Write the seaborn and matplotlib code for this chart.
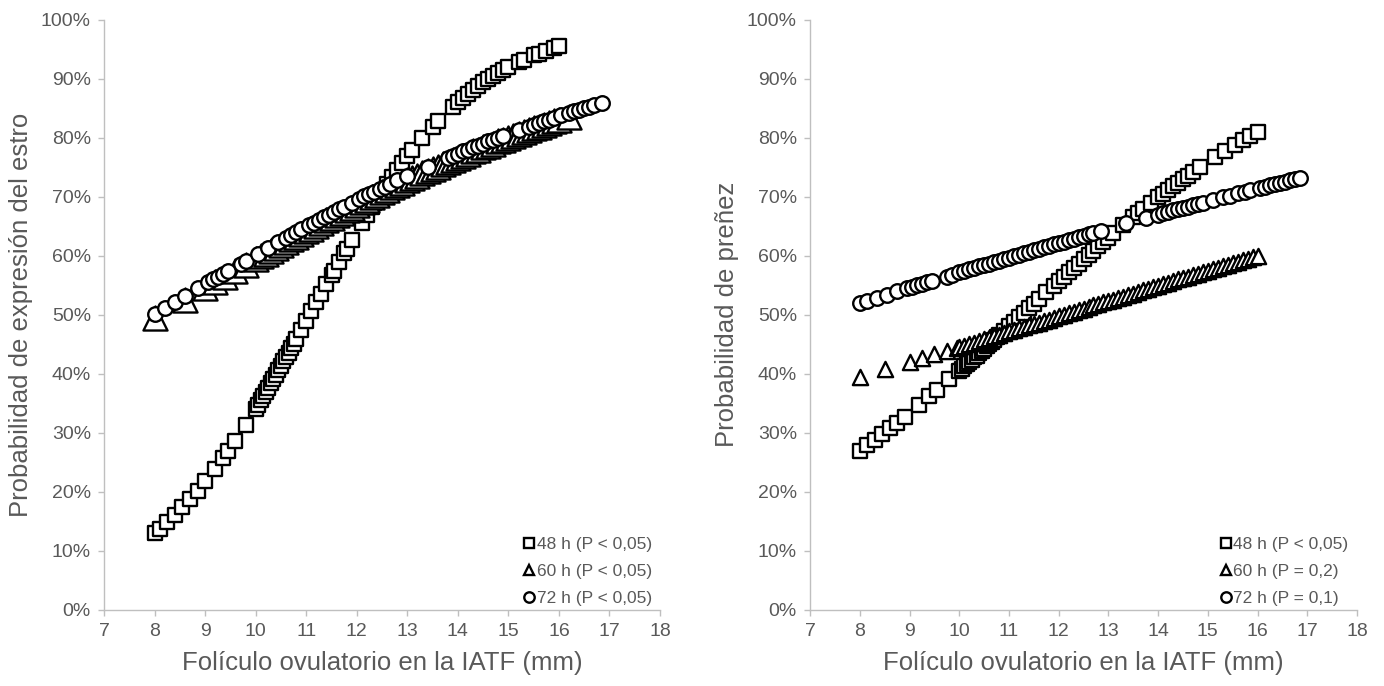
import matplotlib
matplotlib.use("Agg")
import matplotlib.pyplot as plt
from matplotlib.lines import Line2D
from matplotlib.ticker import FuncFormatter
import pandas as pd
import seaborn as sns

# ---- Panel A: probabilidad de expresión del estro ----
estro_48_x = [8.0, 8.1, 8.25, 8.4, 8.55, 8.7, 8.85, 9.0, 9.2, 9.35, 9.45, 9.6, 9.8,
              10.0, 10.05, 10.1, 10.15, 10.2, 10.25, 10.3, 10.35, 10.4, 10.45, 10.5,
              10.55, 10.6, 10.65, 10.7, 10.75, 10.8, 10.9, 11.0, 11.1, 11.2, 11.3,
              11.4, 11.5, 11.55, 11.65, 11.75, 11.8, 11.9, 12.1, 12.2, 12.3, 12.35,
              12.4, 12.5, 12.6, 12.7, 12.8, 12.9, 13.0, 13.1, 13.3, 13.5, 13.6, 13.9,
              14.0, 14.1, 14.2, 14.3, 14.4, 14.5, 14.6, 14.7, 14.8, 14.9, 15.0, 15.2,
              15.3, 15.5, 15.6, 15.75, 15.9, 16.0]
estro_48_y = [13.0, 13.7, 14.9, 16.1, 17.4, 18.8, 20.2, 21.8, 23.9, 25.7, 26.9, 28.7, 31.4,
              34.1, 34.8, 35.5, 36.2, 36.9, 37.6, 38.4, 39.1, 39.8, 40.6, 41.3,
              42.1, 42.9, 43.6, 44.4, 45.1, 45.9, 47.5, 49.0, 50.6, 52.1, 53.6,
              55.2, 56.7, 57.5, 59.0, 60.5, 61.2, 62.7, 65.5, 66.9, 68.3, 68.9,
              69.6, 70.9, 72.2, 73.4, 74.6, 75.7, 76.9, 77.9, 80.0, 81.9, 82.8, 85.3,
              86.1, 86.8, 87.5, 88.1, 88.8, 89.4, 90.0, 90.5, 91.0, 91.5, 92.0, 92.9,
              93.2, 94.0, 94.3, 94.8, 95.3, 95.5]

estro_60_x = [8.0, 8.6, 9.0, 9.2, 9.4, 9.6, 9.8, 10.0, 10.1, 10.2, 10.3, 10.4, 10.5,
              10.6, 10.7, 10.8, 10.9, 11.0, 11.1, 11.2, 11.3, 11.4, 11.5, 11.6, 11.7,
              11.8, 11.9, 12.0, 12.1, 12.2, 12.3, 12.4, 12.5, 12.6, 12.7, 12.8, 12.9,
              13.0, 13.1, 13.2, 13.3, 13.4, 13.5, 13.6, 13.7, 13.8, 13.9, 14.0, 14.1,
              14.2, 14.3, 14.4, 14.5, 14.6, 14.7, 14.8, 14.9, 15.0, 15.1, 15.2, 15.3,
              15.4, 15.5, 15.6, 15.7, 15.8, 15.9, 16.0, 16.2]
estro_60_y = [49.5, 52.5, 54.5, 55.5, 56.5, 57.5, 58.5, 59.4, 59.9, 60.4, 60.9, 61.4, 61.8,
              62.3, 62.8, 63.2, 63.7, 64.2, 64.6, 65.1, 65.5, 66.0, 66.5, 66.9, 67.3,
              67.8, 68.2, 68.7, 69.1, 69.5, 69.9, 70.4, 70.8, 71.2, 71.6, 72.0, 72.4,
              72.8, 73.2, 73.6, 74.0, 74.4, 74.8, 75.1, 75.5, 75.9, 76.2, 76.6, 77.0,
              77.3, 77.7, 78.0, 78.4, 78.7, 79.0, 79.4, 79.7, 80.0, 80.3, 80.6, 81.0,
              81.3, 81.6, 81.9, 82.2, 82.5, 82.8, 83.0, 83.6]

estro_72_x = [8.0, 8.2, 8.4, 8.6, 8.85, 9.05, 9.15, 9.25, 9.35, 9.45, 9.7, 9.8, 10.05,
              10.25, 10.45, 10.6, 10.7, 10.8, 10.9, 11.05, 11.15, 11.25, 11.35, 11.45,
              11.55, 11.65, 11.75, 11.9, 12.05, 12.15, 12.25, 12.35, 12.45, 12.55,
              12.65, 12.8, 13.0, 13.4, 13.8, 13.9, 14.0, 14.1, 14.2, 14.3, 14.4, 14.5,
              14.6, 14.7, 14.8, 14.9, 15.2, 15.4, 15.5, 15.6, 15.7, 15.8, 15.9, 16.05,
              16.2, 16.3, 16.4, 16.5, 16.6, 16.7, 16.85]
estro_72_y = [50.2, 51.2, 52.2, 53.2, 54.5, 55.5, 56.0, 56.5, 57.0, 57.5, 58.7, 59.2, 60.4,
              61.4, 62.4, 63.1, 63.6, 64.0, 64.5, 65.2, 65.6, 66.1, 66.6, 67.0,
              67.5, 67.9, 68.3, 69.0, 69.6, 70.1, 70.5, 70.9, 71.3, 71.7,
              72.1, 72.8, 73.6, 75.1, 76.6, 77.0, 77.3, 77.7, 78.0, 78.4, 78.7, 79.0,
              79.4, 79.7, 80.0, 80.4, 81.3, 81.9, 82.2, 82.5, 82.8, 83.1, 83.4, 83.8,
              84.2, 84.5, 84.7, 85.0, 85.2, 85.5, 85.9]

# ---- Panel B: probabilidad de preñez ----
prenez_48_x = [8.0, 8.15, 8.3, 8.45, 8.6, 8.75, 8.9, 9.2, 9.4, 9.55, 9.8, 10.0, 10.05,
               10.1, 10.15, 10.2, 10.25, 10.3, 10.35, 10.4, 10.45, 10.5, 10.55, 10.6,
               10.65, 10.7, 10.75, 10.8, 10.9, 11.0, 11.1, 11.2, 11.3, 11.4, 11.5, 11.6,
               11.75, 11.9, 12.0, 12.1, 12.2, 12.3, 12.4, 12.5, 12.6, 12.7, 12.8, 12.9,
               13.0, 13.1, 13.3, 13.5, 13.6, 13.7, 13.85, 14.0, 14.1, 14.2, 14.3, 14.4,
               14.5, 14.6, 14.7, 14.85, 15.15, 15.35, 15.55, 15.7, 15.85, 16.0]
prenez_48_y = [27.0, 27.9, 28.8, 29.8, 30.8, 31.7, 32.7, 34.8, 36.2, 37.3, 39.1, 40.5, 40.9,
               41.3, 41.7, 42.0, 42.4, 42.8, 43.1, 43.5, 43.9, 44.3, 44.7, 45.0,
               45.4, 45.8, 46.2, 46.6, 47.3, 48.1, 48.8, 49.6, 50.4, 51.1, 51.9, 52.7,
               53.8, 54.9, 55.7, 56.5, 57.2, 58.0, 58.7, 59.4, 60.2, 60.9, 61.6, 62.3,
               63.1, 63.8, 65.2, 66.6, 67.2, 67.9, 68.9, 69.9, 70.5, 71.1, 71.8, 72.4,
               73.0, 73.6, 74.2, 75.0, 76.7, 77.8, 78.8, 79.6, 80.3, 81.0]

prenez_60_x = [8.0, 8.5, 9.0, 9.25, 9.5, 9.75, 9.95, 10.0, 10.1, 10.2, 10.3, 10.4, 10.5,
               10.6, 10.7, 10.8, 10.9, 11.0, 11.1, 11.2, 11.3, 11.4, 11.5, 11.6, 11.7,
               11.8, 11.9, 12.0, 12.1, 12.2, 12.3, 12.4, 12.5, 12.6, 12.7, 12.8, 12.9,
               13.0, 13.1, 13.2, 13.3, 13.4, 13.5, 13.6, 13.7, 13.8, 13.9, 14.0, 14.1,
               14.2, 14.3, 14.4, 14.5, 14.6, 14.7, 14.8, 14.9, 15.0, 15.1, 15.2, 15.3,
               15.4, 15.5, 15.6, 15.7, 15.8, 15.9, 16.0]
prenez_60_y = [39.5, 40.8, 42.0, 42.7, 43.3, 43.9, 44.4, 44.6, 44.8, 45.1, 45.3, 45.6, 45.9,
               46.1, 46.4, 46.6, 46.9, 47.2, 47.4, 47.7, 47.9, 48.2, 48.5, 48.7, 49.0,
               49.2, 49.5, 49.8, 50.0, 50.3, 50.5, 50.8, 51.0, 51.3, 51.6, 51.8, 52.1,
               52.3, 52.6, 52.9, 53.1, 53.4, 53.6, 53.9, 54.2, 54.4, 54.7, 54.9, 55.2,
               55.4, 55.7, 56.0, 56.2, 56.5, 56.7, 57.0, 57.2, 57.5, 57.7, 58.0, 58.3,
               58.5, 58.8, 59.0, 59.3, 59.5, 59.8, 60.0]

prenez_72_x = [8.0, 8.15, 8.35, 8.55, 8.75, 8.95, 9.05, 9.15, 9.25, 9.35, 9.45, 9.75, 9.85,
               10.0, 10.1, 10.2, 10.3, 10.4, 10.5, 10.6, 10.7, 10.8, 10.9, 11.0, 11.1,
               11.2, 11.3, 11.4, 11.5, 11.6, 11.7, 11.8, 11.9, 12.0, 12.1, 12.2, 12.3,
               12.4, 12.5, 12.6, 12.7, 12.85, 13.35, 13.75, 14.0, 14.1, 14.2, 14.3, 14.4,
               14.5, 14.6, 14.7, 14.8, 14.9, 15.1, 15.3, 15.45, 15.6, 15.75, 15.85, 16.05,
               16.15, 16.25, 16.35, 16.45, 16.55, 16.65, 16.75, 16.85]
prenez_72_y = [52.0, 52.4, 52.9, 53.4, 54.0, 54.5, 54.7, 55.0, 55.2, 55.5, 55.8, 56.5, 56.8,
               57.2, 57.4, 57.7, 57.9, 58.2, 58.5, 58.7, 59.0, 59.2, 59.5, 59.7, 60.0,
               60.2, 60.5, 60.7, 61.0, 61.2, 61.5, 61.7, 62.0, 62.2, 62.4, 62.7, 62.9,
               63.2, 63.4, 63.7, 63.9, 64.3, 65.5, 66.4, 67.0, 67.2, 67.4, 67.7, 67.9,
               68.1, 68.3, 68.6, 68.8, 69.0, 69.5, 69.9, 70.2, 70.6, 70.9, 71.1, 71.5,
               71.7, 72.0, 72.2, 72.4, 72.6, 72.8, 73.0, 73.2]

labels_estro = ["48 h (P < 0,05)", "60 h (P < 0,05)", "72 h (P < 0,05)"]
labels_prenez = ["48 h (P < 0,05)", "60 h (P = 0,2)", "72 h (P = 0,1)"]
x_ticks = list(range(7, 19))
y_ticks = list(range(0, 101, 10))

x_label = "Folículo ovulatorio en la IATF (mm)"
y_label_estro = "Probabilidad de expresión del estro"
y_label_prenez = "Probabilidad de preñez"

# ---- styling ----
sns.set_theme(style="white")
plt.rcParams["font.family"] = ["Liberation Sans", "DejaVu Sans"]
GREY_TEXT = "#595959"
GREY_AXIS = "#BFBFBF"

fig = plt.figure(figsize=(13.84, 6.86), dpi=100)
ax_a = fig.add_axes([0.0752, 0.111, 0.4017, 0.860])
ax_b = fig.add_axes([0.5853, 0.111, 0.3952, 0.860])

markers = ["s", "^", "o"]


def frame(xs, ys, labels):
    parts = []
    for x, y, lab in zip(xs, ys, labels):
        parts.append(pd.DataFrame({"x": x, "y": y, "serie": lab}))
    return pd.concat(parts, ignore_index=True)


def draw_panel(ax, df, labels, sizes, ylabel):
    for lab, mk, sz in zip(labels, markers, sizes):
        sub = df[df["serie"] == lab]
        sns.scatterplot(data=sub, x="x", y="y", ax=ax, marker=mk, s=sz,
                        color="white", edgecolor="black", linewidth=1.7,
                        legend=False, zorder=3)
    ax.set_xlim(7, 18)
    ax.set_ylim(0, 100)
    ax.set_xticks(x_ticks)
    ax.set_yticks(y_ticks)
    ax.yaxis.set_major_formatter(FuncFormatter(lambda v, p: f"{v:.0f}%"))
    for side in ("top", "right"):
        ax.spines[side].set_visible(False)
    for side in ("left", "bottom"):
        ax.spines[side].set_color(GREY_AXIS)
        ax.spines[side].set_linewidth(1.0)
    ax.tick_params(axis="both", which="major", direction="out", length=4.5,
                   width=1.0, color=GREY_AXIS, labelcolor=GREY_TEXT,
                   labelsize=14, left=True, bottom=True, pad=5)
    ax.set_xlabel(x_label, fontsize=18.5, color=GREY_TEXT, labelpad=8)
    ax.set_ylabel(ylabel, fontsize=18.5, color=GREY_TEXT, labelpad=6)
    ax.grid(False)

    handles = [Line2D([0], [0], marker=mk, linestyle="none", markersize=7.5,
                      markerfacecolor="white", markeredgecolor="black",
                      markeredgewidth=1.7) for mk in markers]
    leg = ax.legend(handles, labels, loc="lower right", bbox_to_anchor=(1.01, -0.017),
                    frameon=False, fontsize=12.5, handlelength=0.6,
                    handletextpad=0.15, labelspacing=0.68, borderpad=0.3)
    for t in leg.get_texts():
        t.set_color(GREY_TEXT)


df_a = frame([estro_48_x, estro_60_x, estro_72_x],
             [estro_48_y, estro_60_y, estro_72_y], labels_estro)
df_b = frame([prenez_48_x, prenez_60_x, prenez_72_x],
             [prenez_48_y, prenez_60_y, prenez_72_y], labels_prenez)

draw_panel(ax_a, df_a, labels_estro, [110, 300, 110], y_label_estro)
draw_panel(ax_b, df_b, labels_prenez, [110, 120, 110], y_label_prenez)

fig.savefig("out.png", dpi=100, facecolor="white")
